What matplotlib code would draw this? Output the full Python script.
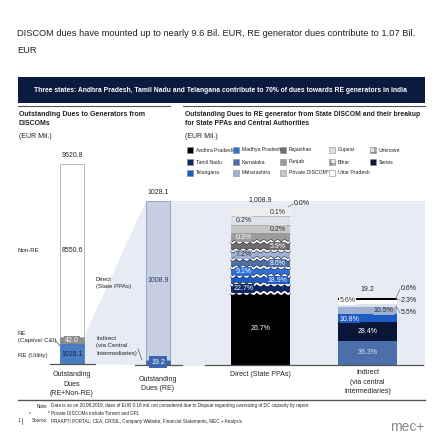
import numpy as np
import matplotlib
matplotlib.use("Agg")
import matplotlib.pyplot as plt
from matplotlib import font_manager
from matplotlib.patches import Rectangle, Polygon

# ---- data ----
total_sum = 9620.8
total_parts = ["RE (Utility)", "RE\n(Captive/ C&I)", "Non-RE"]   # bottom -> top
total_values = [1028.1, 42.0, 8550.6]

re_sum = 1028.1
re_parts = ["Indirect", "Direct"]                                   # bottom -> top
re_values = [19.2, 1008.9]

direct_total = 1008.9
direct_states = ["Andhra Pradesh", "Tamil Nadu", "Telangana", "Madhya Pradesh",
                 "Karnataka", "Maharashtra", "Rajasthan", "Punjab",
                 "Private DISCOM*", "Gujarat", "Bihar", "Uttar Pradesh"]
direct_pct = [26.7, 22.7, 18.9, 9.1, 8.6, 7.2, 5.9, 0.3, 0.2, 0.2, 0.1, 0.0]

indirect_total = 19.2
indirect_states = ["Karnataka", "Series", "Telangana", "Maharashtra",
                   "Gujarat", "Uttar Pradesh", "Andhra Pradesh", "Rajasthan"]
indirect_pct = [36.3, 28.4, 10.8, 10.5, 5.5, 5.6, 2.3, 0.6]

legend_rows = [["Andhra Pradesh", "Madhya Pradesh", "Rajasthan", "Gujarat", "Unknown"],
               ["Tamil Nadu", "Karnataka", "Punjab", "Bihar", "Series"],
               ["Telangana", "Maharashtra", "Private DISCOM*", "Uttar Pradesh"]]

colors = {
    "Andhra Pradesh": "#000000", "Tamil Nadu": "#0e2766", "Telangana": "#1d5cc2",
    "Madhya Pradesh": "#2f70d8", "Karnataka": "#4b6fa8", "Maharashtra": "#9fb0d3",
    "Rajasthan": "#6e6e6e", "Punjab": "#9c9c9c", "Private DISCOM*": "#c6c6c6",
    "Gujarat": "#dde1e9", "Bihar": "#eeeeee", "Uttar Pradesh": "#ffffff",
    "Unknown": "#e2e2e2", "Series": "#0a1638",
}
dark = {"Andhra Pradesh", "Tamil Nadu", "Telangana", "Madhya Pradesh", "Karnataka",
        "Rajasthan", "Punjab", "Series"}


def pick_font(names):
    have = {f.name for f in font_manager.fontManager.ttflist}
    for n in names:
        if n in have:
            return n
    return "DejaVu Sans"


FONT = pick_font(["Liberation Sans Narrow", "Arial Narrow", "Liberation Sans"])
plt.rcParams["font.family"] = [FONT, "DejaVu Sans"]

TXT = "#222222"
NAVY = "#0b1a3f"
SHADE = "#e7ebf3"
LBL = 5.0    # bar value labels
CAT = 5.0    # category labels under the bars
SIDE = 4.4   # side labels next to the bars

fig = plt.figure(figsize=(4.43, 4.43), dpi=100)
ax = fig.add_axes([0, 0, 1, 1])
ax.set_xlim(0, 443)
ax.set_ylim(443, 0)   # work in reference pixels, y downwards
ax.axis("off")

# ---- header ----
ax.text(17, 33, "DISCOM dues have mounted up to nearly 9.6 Bil. EUR, RE generator dues contribute to 1.07 Bil.",
        fontsize=6.65, color=TXT, va="center")
ax.text(17, 50, "EUR", fontsize=6.65, color=TXT, va="center")
ax.add_patch(Rectangle((18, 77), 407, 26, color=NAVY, lw=0))
ax.text(221, 90, "Three states: Andhra Pradesh, Tamil Nadu and Telangana contribute to 70% of dues towards RE generators in India",
        fontsize=4.9, color="white", weight="bold", ha="center", va="center")
ax.plot([18, 170], [105.5, 105.5], color="#555555", lw=0.8)
ax.plot([183, 425], [105.5, 105.5], color="#555555", lw=0.8)

ax.text(19, 119, "Outstanding Dues to Generators from\nDISCOMs", fontsize=5.0, weight="bold",
        color=TXT, va="center", linespacing=1.45)
ax.text(19, 137, "(EUR Mil.)", fontsize=5.0, color=TXT, va="center")
ax.text(185, 119, "Outstanding Dues to RE generator from State DISCOM and their breakup\nfor State PPAs and Central Authorities",
        fontsize=4.85, weight="bold", color=TXT, va="center", linespacing=1.45)
ax.text(185, 137, "(EUR Mil.)", fontsize=5.0, color=TXT, va="center")

# ---- legend ----
col_x = [187, 233, 280, 329, 370]
row_y = [150, 162, 172.5]
for r, row in enumerate(legend_rows):
    for c, name in enumerate(row):
        hatch = "+++" if name in ("Unknown", "Bihar") else None
        ax.add_patch(Rectangle((col_x[c], row_y[r] - 3), 6, 6, facecolor=colors[name],
                               edgecolor="#8a8a8a", lw=0.4, hatch=hatch))
        ax.text(col_x[c] + 9, row_y[r], name, fontsize=3.7, color=TXT, va="center")

# ---- left panel: total dues bar ----
base = 364
x_tot, w_small = 72, 24
tot_scale = 0.0203
tot_h = [max(v * tot_scale, 6) for v in total_values]
tot_face = ["#4a7cc0", "#8c8c8c", "white"]
tot_edge = ["#4a7cc0", "#8c8c8c", "#b0b0b0"]
bottom = base
for h, v, fc, ec in zip(tot_h, total_values, tot_face, tot_edge):
    ax.bar(x_tot, -h, bottom=bottom, width=w_small, color=fc, edgecolor=ec, lw=0.6)
    bottom -= h
tot_top = bottom
re_top = base - tot_h[0] - tot_h[1]

# funnel shading from the RE part to the RE-only bar
x_re = 158
re_scale = 0.1576
re_h = [max(v * re_scale, 5) for v in re_values]
re_bar_top = base + 1 - sum(re_h)
ax.add_patch(Polygon([(x_tot + w_small / 2, re_top), (x_re - w_small / 2, re_bar_top),
                      (x_re - w_small / 2, base + 1), (x_tot + w_small / 2, base)],
                     closed=True, color=SHADE, lw=0, zorder=0))
ax.add_patch(Rectangle((x_re + w_small / 2, re_bar_top), 425 - x_re - w_small / 2,
                       366 - re_bar_top, color=SHADE, lw=0, zorder=0))

ax.text(x_tot, tot_top - 8, f"{total_sum:.1f}", fontsize=LBL, color=TXT, ha="center", va="center")
ax.text(x_tot, (tot_top + re_top) / 2, f"{total_values[2]:.1f}", fontsize=LBL, color=TXT,
        ha="center", va="center")
ax.text(x_tot, base - tot_h[0] - tot_h[1] / 2, f"{total_values[1]:.1f}", fontsize=LBL,
        color="white", ha="center", va="center",
        bbox=dict(boxstyle="square,pad=0.1", fc="#8c8c8c", ec="none"))
ax.text(x_tot, base - tot_h[0] / 2 + 1, f"{total_values[0]:.1f}", fontsize=LBL, color="#14254d",
        ha="center", va="center")
ax.text(18, (tot_top + re_top) / 2, "Non-RE", fontsize=SIDE, color=TXT, va="center")
ax.text(18, 337, "RE\n(Captive/ C&I)", fontsize=SIDE, color=TXT, va="center", linespacing=1.6)
ax.text(18, 356, "RE (Utility)", fontsize=SIDE, color=TXT, va="center")
ax.plot([55, 60], [340, 346], color="#555555", lw=0.5)
ax.plot([50, 95], [base, base], color="#555555", lw=0.9)

# ---- RE-only bar ----
bottom = base + 1
re_face = ["#3d67ad", "#c5cee2"]
re_edge = ["#3d67ad", "#8a9bc4"]
for h, fc, ec in zip(re_h, re_face, re_edge):
    ax.bar(x_re, -h, bottom=bottom, width=w_small, color=fc, edgecolor=ec, lw=0.6)
    bottom -= h
ax.text(x_re, re_bar_top - 8, f"{re_sum:.1f}", fontsize=LBL, color=TXT, ha="center", va="center")
ax.text(x_re, base + 1 - re_h[0] - re_h[1] / 2, f"{re_values[1]:.1f}", fontsize=LBL,
        color="#2a3f6e", ha="center", va="center")
ax.text(x_re, base - 2, f"{re_values[0]:.1f}", fontsize=LBL, color="white", ha="center",
        va="center", bbox=dict(boxstyle="square,pad=0.3", fc="#3d67ad", ec="none"))
ax.text(96, 283, "Direct\n(State PPAs)", fontsize=SIDE, color=TXT, va="center", linespacing=1.6)
ax.text(96, 346, "Indirect\n(via Central\nIntermediaries)", fontsize=SIDE, color=TXT,
        va="center", linespacing=1.6)
ax.plot([138, 142], [349, 360], color="#555555", lw=0.5)
ax.plot([135, 182], [base + 0.5, base + 0.5], color="#555555", lw=0.9)

# ---- direct (state PPAs) breakup, broken scale above the first block ----
x_dir, w_big = 260.5, 59
band = 8.5
dir_h = [p * 2.7 if i == 0 else (band if p > 0 else 0) for i, p in enumerate(direct_pct)]
bottom = base + 1
edges = []
for i, (name, p, h) in enumerate(zip(direct_states, direct_pct, dir_h)):
    ax.bar(x_dir, -h, bottom=bottom, width=w_big, color=colors[name], lw=0)
    mid = bottom - h / 2
    tc = "white" if name in dark else "#333333"
    if i == 0:
        ax.text(x_dir, mid, f"{p:.1f}%", fontsize=LBL, color="white", ha="center", va="center")
    elif h > 0:
        xl = x_dir - 17 if i % 2 == 1 else x_dir + 17
        ax.text(xl, mid, f"{p:.1f}%", fontsize=LBL, color=tc, ha="center", va="center",
                bbox=dict(boxstyle="square,pad=0.1", fc=colors[name], ec="none"))
    else:
        ax.text(x_dir + w_big / 2 + 4, bottom - 4, f"{p:.1f}%", fontsize=LBL, color=TXT,
                va="center")
        ax.plot([x_dir + w_big / 2 - 2, x_dir + w_big / 2 + 3], [bottom - 1, bottom - 4],
                color="#777777", lw=0.5)
    bottom -= h
    edges.append(bottom)
dir_top = bottom
# torn (wavy) borders between the compressed bands
xs = np.linspace(x_dir - w_big / 2, x_dir + w_big / 2, 100)
for y0 in edges[:7]:
    ys = y0 + 1.0 * np.sin((xs - xs[0]) / 1.1)
    ax.plot(xs, ys, color="#1a1a1a", lw=2.1, solid_capstyle="butt")
    ax.plot(xs, ys, color="white", lw=1.3, solid_capstyle="butt")
for y0 in edges[7:10]:
    ax.plot([xs[0], xs[-1]], [y0, y0], color="#9a9a9a", lw=0.5, ls=(0, (3, 1)))
ax.text(x_dir, dir_top - 8, f"{direct_total:,.1f}", fontsize=LBL, color=TXT, ha="center",
        va="center")

# ---- indirect breakup (to scale) ----
x_ind = 367.5
ind_scale = 0.67
bottom = base + 1
ind_mid = []
for name, p in zip(indirect_states, indirect_pct):
    h = p * ind_scale
    ax.bar(x_ind, -h, bottom=bottom, width=w_big, color=colors[name], lw=0)
    ind_mid.append(bottom - h / 2)
    bottom -= h
ind_top = bottom
ax.text(x_ind, ind_mid[0], f"{indirect_pct[0]:.1f}%", fontsize=LBL, color="#dfe4f2",
        ha="center", va="center")
ax.text(x_ind, ind_mid[1], f"{indirect_pct[1]:.1f}%", fontsize=LBL, color="white",
        ha="center", va="center")
ax.text(x_ind - 18, ind_mid[2] + 1, f"{indirect_pct[2]:.1f}%", fontsize=LBL, color="white",
        ha="center", va="center", bbox=dict(boxstyle="square,pad=0.1", fc=colors["Telangana"], ec="none"))
ax.text(x_ind + 16, ind_mid[3], f"{indirect_pct[3]:.1f}%", fontsize=LBL, color="#333333",
        ha="center", va="center", bbox=dict(boxstyle="square,pad=0.1", fc=colors["Maharashtra"], ec="none"))
ax.text(x_ind - 20, ind_mid[5] - 1, f"{indirect_pct[5]:.1f}%", fontsize=LBL, color="#333333",
        ha="center", va="center", bbox=dict(boxstyle="square,pad=0.1", fc="white", ec="none"))
out_y = {4: 313, 6: 300, 7: 289}
for k, yk in out_y.items():
    ax.text(x_ind + w_big / 2 + 4, yk, f"{indirect_pct[k]:.1f}%", fontsize=LBL,
            color=TXT, va="center")
    ax.plot([x_ind + w_big / 2 - 1, x_ind + w_big / 2 + 3], [ind_mid[k], yk],
            color="#777777", lw=0.5)
ax.text(x_ind, ind_top - 8, f"{indirect_total:.1f}", fontsize=LBL, color=TXT, ha="center",
        va="center")
ax.plot([205, 423], [base + 1, base + 1], color="#555555", lw=0.9)

# ---- category labels ----
ax.text(x_tot, 384, "Outstanding\nDues\n(RE+Non-RE)", fontsize=CAT, color=TXT, ha="center",
        va="center", linespacing=1.5)
ax.text(x_re, 384, "Outstanding\nDues (RE)", fontsize=CAT, color=TXT, ha="center",
        va="center", linespacing=1.5)
ax.text(x_dir, 374, "Direct (State PPAs)", fontsize=CAT, color=TXT, ha="center", va="center")
ax.text(x_ind, 382, "Indirect\n(via central\nintermediaries)", fontsize=CAT, color=TXT,
        ha="center", va="center", linespacing=1.45)

# ---- footer ----
ax.plot([18, 425], [399.5, 399.5], color="#555555", lw=1.0)
fn = 3.3
ax.text(48, 406, "Note:", fontsize=fn, color=TXT, ha="right", va="center")
ax.text(51, 406, "Data is as on 20.08.2019, dues of EUR 0.18 mil. not considered due to Dispute regarding oversizing of DC capacity by report",
        fontsize=fn, color=TXT, va="center")
ax.text(30, 413.5, "*", fontsize=fn, color=TXT, ha="center", va="center")
ax.text(48, 413.5, "* Private DISCOMs include Torrent and DPL", fontsize=fn, color=TXT, va="center")
ax.text(19, 421, "1", fontsize=fn, color=TXT, ha="center", va="center")
ax.plot([22.5, 22.5], [418, 424], color="#555555", lw=0.5)
ax.text(48, 421, "Source:", fontsize=fn, color=TXT, ha="right", va="center")
ax.text(51, 421, "PRAAPTI PORTAL; CEA, CRISIL, Company Website, Financial Statements, MEC + Analysis",
        fontsize=fn, color=TXT, va="center")
ax.text(424, 427, "mec+", fontsize=10, color="#8a8a8a", ha="right", va="center")

fig.savefig("out.png", dpi=100)
